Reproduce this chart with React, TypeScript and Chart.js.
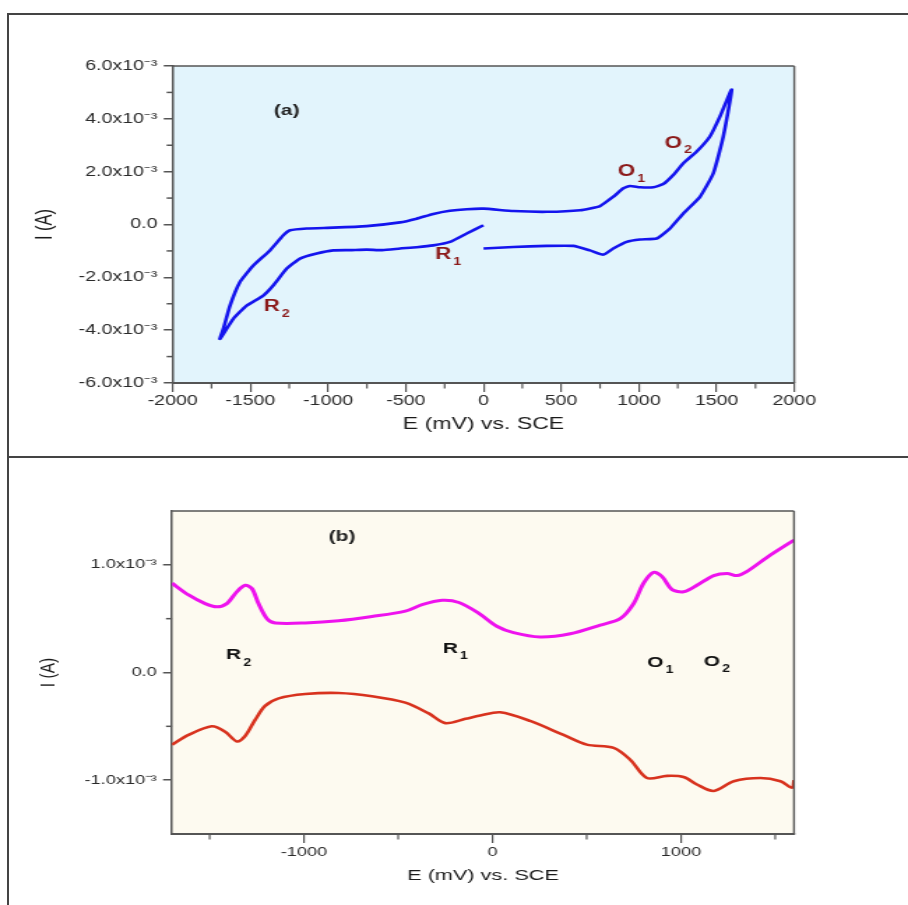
import React, { useEffect, useRef } from 'react';
import { Chart, registerables } from 'chart.js';

Chart.register(...registerables);

// ---------- data: panel (a) cyclic voltammogram (E in mV, I in A) ----------
const CV_E = [
  0, 192, 407, 578, 685, 771, 835, 921, 1007, 1114, 1200, 1286, 1393, 1479, 1543, 1597,
  1522, 1457, 1372, 1286, 1221, 1157, 1093, 1007, 943, 900, 835, 750, 621, 407, 192, 0,
  -108, -216, -323, -430, -537, -752, -967, -1138, -1245, -1288, -1374, -1481, -1567, -1631, -1674, -1696,
  -1610, -1524, -1417, -1353, -1266, -1181, -1073, -967, -860, -752, -650, -537, -430, -323, -216, -108, -1,
];
const CV_I = [
  -0.91e-3, -0.85e-3, -0.81e-3, -0.81e-3, -0.98e-3, -1.14e-3, -0.91e-3, -0.66e-3, -0.57e-3, -0.53e-3, -0.15e-3, 0.42e-3, 1.05e-3, 1.94e-3, 3.33e-3, 5.11e-3,
  4.09e-3, 3.33e-3, 2.76e-3, 2.32e-3, 1.87e-3, 1.53e-3, 1.41e-3, 1.41e-3, 1.46e-3, 1.37e-3, 1.05e-3, 0.70e-3, 0.54e-3, 0.48e-3, 0.51e-3, 0.60e-3,
  0.58e-3, 0.52e-3, 0.40e-3, 0.22e-3, 0.08e-3, -0.06e-3, -0.12e-3, -0.15e-3, -0.22e-3, -0.41e-3, -0.98e-3, -1.55e-3, -2.18e-3, -3.07e-3, -3.95e-3, -4.33e-3,
  -3.57e-3, -3.07e-3, -2.69e-3, -2.31e-3, -1.67e-3, -1.29e-3, -1.10e-3, -0.98e-3, -0.97e-3, -0.95e-3, -0.97e-3, -0.91e-3, -0.86e-3, -0.79e-3, -0.66e-3, -0.34e-3, -0.03e-3,
];
const A_X_TICKS = [-2000, -1500, -1000, -500, 0, 500, 1000, 1500, 2000];
const A_X_MINOR = [-1750, -1250, -750, -250, 250, 750, 1250, 1750];
const A_Y_TICKS = [-6e-3, -4e-3, -2e-3, 0, 2e-3, 4e-3, 6e-3];
const A_Y_MINOR = [-5e-3, -3e-3, -1e-3, 1e-3, 3e-3, 5e-3];

// ---------- data: panel (b) ----------
const B_UP_E = [
  -1700, -1612, -1524, -1462, -1409, -1356, -1312, -1276, -1241, -1196, -1152, -993, -816, -639, -462, -373, -267, -178,
  -72, 23, 112, 253, 413, 572, 678, 749, 802, 855, 900, 953, 1014, 1085, 1174, 1245, 1298, 1351, 1457, 1600,
];
const B_UP_I = [
  0.83e-3, 0.72e-3, 0.64e-3, 0.61e-3, 0.64e-3, 0.75e-3, 0.81e-3, 0.78e-3, 0.64e-3, 0.50e-3, 0.46e-3, 0.46e-3, 0.48e-3, 0.52e-3, 0.57e-3, 0.63e-3, 0.67e-3, 0.65e-3,
  0.55e-3, 0.43e-3, 0.37e-3, 0.33e-3, 0.36e-3, 0.44e-3, 0.50e-3, 0.64e-3, 0.83e-3, 0.93e-3, 0.89e-3, 0.77e-3, 0.75e-3, 0.81e-3, 0.90e-3, 0.92e-3, 0.90e-3, 0.94e-3, 1.07e-3, 1.23e-3,
];
const B_LO_E = [
  -1700, -1612, -1489, -1418, -1356, -1312, -1259, -1206, -1134, -993, -816, -639, -462, -338, -250, -143,
  -65, 41, 200, 377, 501, 643, 731, 820, 926, 1014, 1085, 1174, 1280, 1422, 1528, 1590, 1600,
];
const B_LO_I = [
  -0.67e-3, -0.58e-3, -0.50e-3, -0.55e-3, -0.64e-3, -0.59e-3, -0.44e-3, -0.31e-3, -0.24e-3, -0.20e-3, -0.19e-3, -0.22e-3, -0.28e-3, -0.38e-3, -0.47e-3, -0.43e-3,
  -0.40e-3, -0.37e-3, -0.45e-3, -0.58e-3, -0.67e-3, -0.70e-3, -0.81e-3, -0.98e-3, -0.96e-3, -0.97e-3, -1.04e-3, -1.10e-3, -1.01e-3, -0.98e-3, -1.01e-3, -1.07e-3, -1.00e-3,
];
const B_X_TICKS = [-1000, 0, 1000];
const B_X_MINOR = [-1500, -500, 500, 1500];
const B_Y_TICKS = [-1e-3, 0, 1e-3];
const B_Y_MINOR = [-0.5e-3, 0.5e-3];

// annotation texts (placed in data coordinates)
const A_NOTES = [
  { t: '(a)', s: '', x: -1266, y: 4.31e-3 },
  { t: 'O', s: '1', x: 921, y: 2.0e-3 },
  { t: 'O', s: '2', x: 1221, y: 3.08e-3 },
  { t: 'R', s: '1', x: -259, y: -1.14e-3 },
  { t: 'R', s: '2', x: -1363, y: -3.11e-3 },
];
const B_NOTES = [
  { t: '(b)', s: '', x: -798, y: 1.26e-3 },
  { t: 'R', s: '2', x: -1373, y: 0.16e-3 },
  { t: 'R', s: '1', x: -223, y: 0.22e-3 },
  { t: 'O', s: '1', x: 864, y: 0.087e-3 },
  { t: 'O', s: '2', x: 1165, y: 0.1e-3 },
];

const FONT = "'Liberation Sans', Arial, sans-serif";
const W_INT = 650;
const W_DISP = 908;

function sci(v: number): string {
  const m = Math.round(v * 1e4) / 10;
  if (m === 0) return '0.0';
  return m.toFixed(1) + 'x10\u207B\u00B3';
}

type Note = { t: string; s: string; x: number; y: number };

function decor(bg: string, xMinor: number[], yMinor: number[], notes: Note[], noteColor: string, mainSize: number) {
  return {
    id: 'decor',
    beforeDraw(chart: any) {
      const { ctx, chartArea: a } = chart;
      ctx.save();
      ctx.fillStyle = bg;
      ctx.fillRect(a.left, a.top, a.right - a.left, a.bottom - a.top);
      ctx.restore();
    },
    afterDraw(chart: any) {
      const { ctx, chartArea: a, scales } = chart;
      ctx.save();
      ctx.strokeStyle = '#555';
      ctx.lineWidth = 1.6;
      ctx.beginPath();
      ctx.moveTo(a.left, a.top);
      ctx.lineTo(a.right, a.top);
      ctx.stroke();
      ctx.lineWidth = 1.4;
      ctx.beginPath();
      ctx.moveTo(a.right, a.top);
      ctx.lineTo(a.right, a.bottom);
      ctx.stroke();
      // minor ticks
      ctx.lineWidth = 1.2;
      for (const v of xMinor) {
        const px = scales.x.getPixelForValue(v);
        ctx.beginPath();
        ctx.moveTo(px, a.bottom);
        ctx.lineTo(px, a.bottom + 5.5);
        ctx.stroke();
      }
      ctx.lineWidth = 1.5;
      for (const v of yMinor) {
        const py = scales.y.getPixelForValue(v);
        ctx.beginPath();
        ctx.moveTo(a.left - 4.3, py);
        ctx.lineTo(a.left, py);
        ctx.stroke();
      }
      // notes
      for (const n of notes) {
        const px = scales.x.getPixelForValue(n.x);
        const py = scales.y.getPixelForValue(n.y);
        const isTitle = n.s === '';
        ctx.fillStyle = isTitle ? '#222' : noteColor;
        ctx.font = isTitle ? `bold 15px ${FONT}` : `bold ${mainSize}px ${FONT}`;
        ctx.textAlign = 'center';
        ctx.textBaseline = 'middle';
        ctx.fillText(n.t, px, py);
        if (n.s) {
          const w = ctx.measureText(n.t).width;
          ctx.font = `bold 10px ${FONT}`;
          ctx.textAlign = 'left';
          ctx.fillText(n.s, px + w / 2 + 1.5, py + 7.5);
        }
      }
      ctx.restore();
    },
  };
}

type PanelCfg = {
  height: number;
  left: number;
  right: number;
  top: number;
  bottom: number;
  xMin: number;
  xMax: number;
  yMin: number;
  yMax: number;
  xTicks: number[];
  yTicks: number[];
  xMinor: number[];
  yMinor: number[];
  datasets: any[];
  bg: string;
  notes: Note[];
  noteColor: string;
  noteSize: number;
  tickFont: number;
  xTickFont: number;
  titleFont: number;
  xTitlePad: number;
  yTitlePad: number;
  xTickPad: number;
};

function buildConfig(p: PanelCfg): any {
  return {
    type: 'scatter',
    data: { datasets: p.datasets },
    plugins: [decor(p.bg, p.xMinor, p.yMinor, p.notes, p.noteColor, p.noteSize)],
    options: {
      responsive: false,
      animation: false,
      devicePixelRatio: 1,
      layout: { padding: { left: 0, right: W_INT - p.right, top: p.top, bottom: 0 } },
      plugins: { legend: { display: false }, tooltip: { enabled: false } },
      scales: {
        x: {
          type: 'linear',
          min: p.xMin,
          max: p.xMax,
          afterBuildTicks: (s: any) => {
            s.ticks = p.xTicks.map((v) => ({ value: v }));
          },
          afterFit: (s: any) => {
            s.height = p.height - p.bottom;
          },
          grid: { display: true, drawOnChartArea: false, drawTicks: true, tickLength: 9, color: '#555', lineWidth: 1.2 },
          border: { display: true, color: '#555', width: 2 },
          ticks: {
            autoSkip: false,
            maxRotation: 0,
            padding: p.xTickPad,
            color: '#2a2a2a',
            font: { family: FONT, size: p.xTickFont },
            callback: (v: any) => String(v),
          },
          title: {
            display: true,
            text: 'E (mV) vs. SCE',
            color: '#1a1a1a',
            font: { family: FONT, size: p.titleFont },
            padding: { top: 0, bottom: p.xTitlePad },
          },
        },
        y: {
          type: 'linear',
          min: p.yMin,
          max: p.yMax,
          afterBuildTicks: (s: any) => {
            s.ticks = p.yTicks.map((v) => ({ value: v }));
          },
          afterFit: (s: any) => {
            s.width = p.left;
          },
          grid: { display: true, drawOnChartArea: false, drawTicks: true, tickLength: 6.4, color: '#555', lineWidth: 1.5 },
          border: { display: true, color: '#555', width: 1.5 },
          ticks: {
            autoSkip: false,
            padding: 4.5,
            color: '#2a2a2a',
            font: { family: FONT, size: p.tickFont },
            callback: (v: any) => sci(v),
          },
          title: {
            display: true,
            text: 'I (A)',
            color: '#1a1a1a',
            font: { family: FONT, size: p.titleFont },
            padding: { top: p.yTitlePad, bottom: 0 },
          },
        },
      },
    },
  };
}

function Panel({ top, cfg }: { top: number; cfg: PanelCfg }) {
  const ref = useRef<HTMLCanvasElement>(null);
  useEffect(() => {
    const c = ref.current;
    if (!c) return;
    const chart = new Chart(c, buildConfig(cfg));
    return () => chart.destroy();
  }, []);
  return (
    <canvas
      ref={ref}
      width={W_INT}
      height={cfg.height}
      style={{ position: 'absolute', left: 0, top, width: W_DISP + 'px', height: cfg.height + 'px', display: 'block' }}
    />
  );
}

const cfgA: PanelCfg = {
  height: 444,
  left: 123.6,
  right: 568.6,
  top: 52,
  bottom: 369,
  xMin: -2000,
  xMax: 2000,
  yMin: -6e-3,
  yMax: 6e-3,
  xTicks: A_X_TICKS,
  yTicks: A_Y_TICKS,
  xMinor: A_X_MINOR,
  yMinor: A_Y_MINOR,
  datasets: [
    {
      data: CV_E.map((e, i) => ({ x: e, y: CV_I[i] })),
      showLine: true,
      pointRadius: 0,
      borderColor: '#1414EE',
      borderWidth: 2.6,
      tension: 0.15,
    },
  ],
  bg: '#E2F4FC',
  notes: A_NOTES,
  noteColor: '#8B1A1A',
  noteSize: 16,
  tickFont: 14,
  xTickFont: 14,
  titleFont: 16.5,
  xTitlePad: 24,
  yTitlePad: 22.4,
  xTickPad: 1,
};

const cfgB: PanelCfg = {
  height: 447,
  left: 123.1,
  right: 568.4,
  top: 53,
  bottom: 376,
  xMin: -1700,
  xMax: 1600,
  yMin: -1.5e-3,
  yMax: 1.5e-3,
  xTicks: B_X_TICKS,
  yTicks: B_Y_TICKS,
  xMinor: B_X_MINOR,
  yMinor: B_Y_MINOR,
  datasets: [
    {
      data: B_UP_E.map((e, i) => ({ x: e, y: B_UP_I[i] })),
      showLine: true,
      pointRadius: 0,
      borderColor: '#EE12EE',
      borderWidth: 3,
      tension: 0.3,
    },
    {
      data: B_LO_E.map((e, i) => ({ x: e, y: B_LO_I[i] })),
      showLine: true,
      pointRadius: 0,
      borderColor: '#D8321E',
      borderWidth: 2.6,
      tension: 0.3,
    },
  ],
  bg: '#FDFAF0',
  notes: B_NOTES,
  noteColor: '#111',
  noteSize: 15,
  tickFont: 13,
  xTickFont: 13,
  titleFont: 15.5,
  xTitlePad: 20,
  yTitlePad: 25,
  xTickPad: 2,
};

export default function App() {
  return (
    <div style={{ position: 'absolute', left: 0, top: 0, width: 908, height: 905, overflow: 'hidden', background: '#fff' }}>
      <Panel top={14} cfg={cfgA} />
      <Panel top={458} cfg={cfgB} />
      <div
        style={{
          position: 'absolute',
          left: 7,
          top: 13,
          width: 960,
          height: 445,
          border: '2px solid #444',
          boxSizing: 'border-box',
          pointerEvents: 'none',
        }}
      />
      <div
        style={{
          position: 'absolute',
          left: 7,
          top: 456,
          width: 960,
          height: 500,
          borderTop: '2px solid #444',
          borderLeft: '2px solid #444',
          boxSizing: 'border-box',
          pointerEvents: 'none',
        }}
      />
    </div>
  );
}
